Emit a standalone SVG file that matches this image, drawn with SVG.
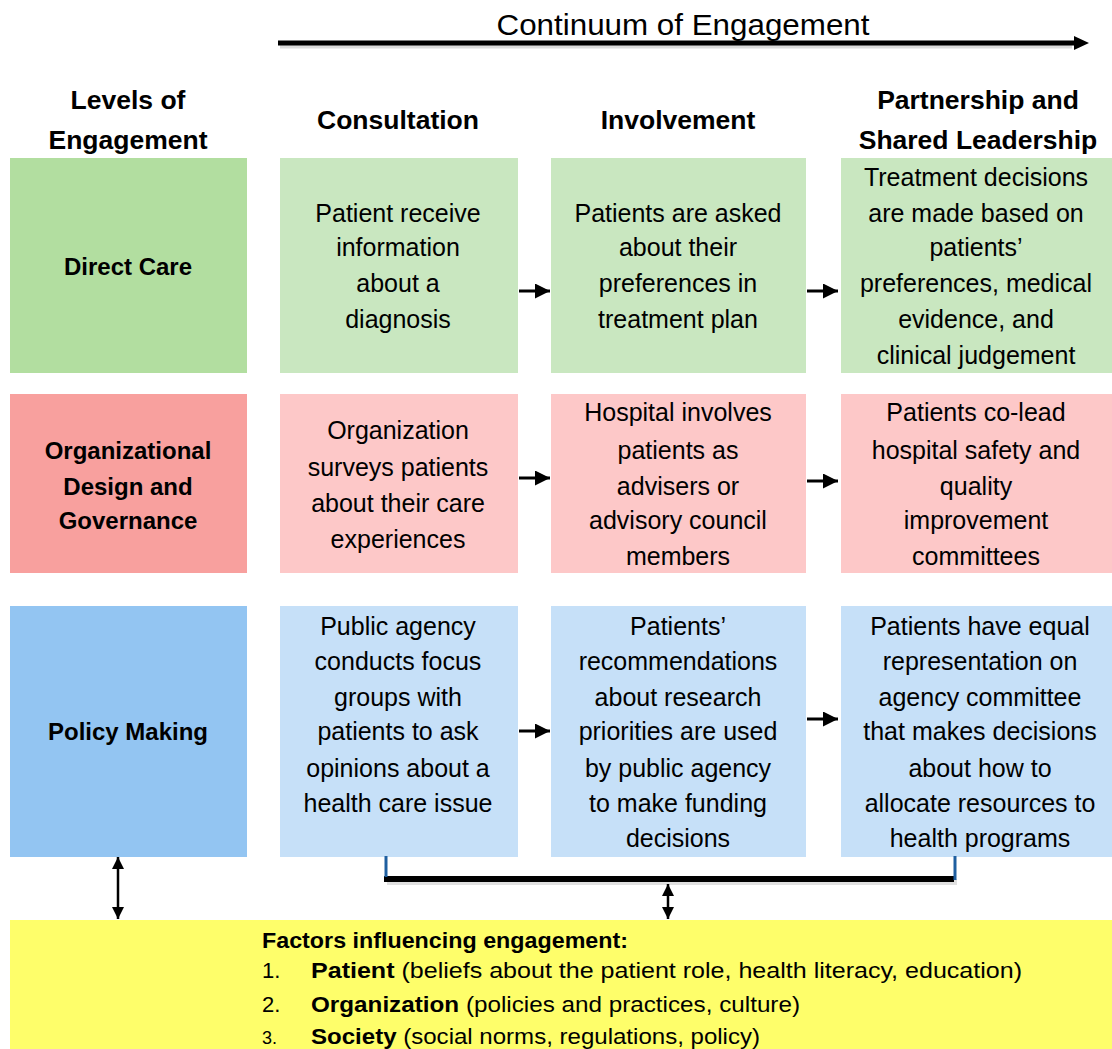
<svg xmlns="http://www.w3.org/2000/svg" width="1112" height="1049" viewBox="0 0 1112 1049">
<style>
text{font-family:"Liberation Sans",Arial,sans-serif;fill:#000}
.t{font-size:25px;text-anchor:middle}
.h{font-size:26.5px;font-weight:bold;text-anchor:middle}
.l{font-size:24px;font-weight:bold;text-anchor:middle}
.f{font-size:22px}
.b{font-weight:bold}
.ar{stroke:#000;stroke-width:3;fill:none}
</style>
<defs>
<marker id="sa" viewBox="0 0 10 10" refX="10" refY="5" markerWidth="17" markerHeight="15" markerUnits="userSpaceOnUse" orient="auto"><path d="M0,0L10,5L0,10z" fill="#000"/></marker>
<marker id="da" viewBox="0 0 10 10" refX="10" refY="5" markerWidth="14" markerHeight="12" markerUnits="userSpaceOnUse" orient="auto-start-reverse"><path d="M0,0L10,5L0,10z" fill="#000"/></marker>
</defs>
<rect width="1112" height="1049" fill="#fff"/>
<g id="title">
<text x="683" y="35" font-size="30" text-anchor="middle" textLength="373" lengthAdjust="spacingAndGlyphs">Continuum of Engagement</text>
</g>
<g id="headers">
<text class="h" x="128" y="109">Levels of</text>
<text class="h" x="128" y="149">Engagement</text>
<text class="h" x="398" y="129">Consultation</text>
<text class="h" x="678" y="129">Involvement</text>
<text class="h" x="978" y="109">Partnership and</text>
<text class="h" x="978" y="149">Shared Leadership</text>
</g>
<g id="direct-care">
<rect x="10" y="158" width="237" height="215" fill="#b2dea0"/>
<text class="l" x="128" y="275">Direct Care</text>
</g>
<g id="dc-consultation">
<rect x="280" y="158" width="238" height="215" fill="#c9e7c0"/>
<text class="t" x="398" y="222">Patient receive</text>
<text class="t" x="398" y="256">information</text>
<text class="t" x="398" y="292">about a</text>
<text class="t" x="398" y="328">diagnosis</text>
</g>
<g id="dc-involvement">
<rect x="551" y="158" width="255" height="215" fill="#c9e7c0"/>
<text class="t" x="678" y="222">Patients are asked</text>
<text class="t" x="678" y="256">about their</text>
<text class="t" x="678" y="292">preferences in</text>
<text class="t" x="678" y="328">treatment plan</text>
</g>
<g id="dc-partnership">
<rect x="841" y="158" width="271" height="215" fill="#c9e7c0"/>
<text class="t" x="976" y="186">Treatment decisions</text>
<text class="t" x="976" y="222">are made based on</text>
<text class="t" x="976" y="256">patients’</text>
<text class="t" x="976" y="292">preferences, medical</text>
<text class="t" x="976" y="328">evidence, and</text>
<text class="t" x="976" y="364">clinical judgement</text>
</g>
<g id="org-design">
<rect x="10" y="394" width="237" height="179" fill="#f8a09e"/>
<text class="l" x="128" y="459">Organizational</text>
<text class="l" x="128" y="495">Design and</text>
<text class="l" x="128" y="529">Governance</text>
</g>
<g id="org-consultation">
<rect x="280" y="394" width="238" height="179" fill="#fdc8c8"/>
<text class="t" x="398" y="439">Organization</text>
<text class="t" x="398" y="476">surveys patients</text>
<text class="t" x="398" y="512">about their care</text>
<text class="t" x="398" y="548">experiences</text>
</g>
<g id="org-involvement">
<rect x="551" y="394" width="255" height="179" fill="#fdc8c8"/>
<text class="t" x="678" y="421">Hospital involves</text>
<text class="t" x="678" y="459">patients as</text>
<text class="t" x="678" y="495">advisers or</text>
<text class="t" x="678" y="529">advisory council</text>
<text class="t" x="678" y="565">members</text>
</g>
<g id="org-partnership">
<rect x="841" y="394" width="271" height="179" fill="#fdc8c8"/>
<text class="t" x="976" y="421">Patients co-lead</text>
<text class="t" x="976" y="459">hospital safety and</text>
<text class="t" x="976" y="495">quality</text>
<text class="t" x="976" y="529">improvement</text>
<text class="t" x="976" y="565">committees</text>
</g>
<g id="policy-making">
<rect x="10" y="606" width="237" height="251" fill="#93c5f2"/>
<text class="l" x="128" y="740">Policy Making</text>
</g>
<g id="pm-consultation">
<rect x="280" y="606" width="238" height="251" fill="#c6e0f8"/>
<text class="t" x="398" y="635">Public agency</text>
<text class="t" x="398" y="670">conducts focus</text>
<text class="t" x="398" y="706">groups with</text>
<text class="t" x="398" y="740">patients to ask</text>
<text class="t" x="398" y="777">opinions about a</text>
<text class="t" x="398" y="812">health care issue</text>
</g>
<g id="pm-involvement">
<rect x="551" y="606" width="255" height="251" fill="#c6e0f8"/>
<text class="t" x="678" y="635">Patients’</text>
<text class="t" x="678" y="670">recommendations</text>
<text class="t" x="678" y="706">about research</text>
<text class="t" x="678" y="740">priorities are used</text>
<text class="t" x="678" y="777">by public agency</text>
<text class="t" x="678" y="812">to make funding</text>
<text class="t" x="678" y="847">decisions</text>
</g>
<g id="pm-partnership">
<rect x="841" y="606" width="271" height="251" fill="#c6e0f8"/>
<text class="t" x="980" y="635">Patients have equal</text>
<text class="t" x="980" y="670">representation on</text>
<text class="t" x="980" y="706">agency committee</text>
<text class="t" x="980" y="740">that makes decisions</text>
<text class="t" x="980" y="777">about how to</text>
<text class="t" x="980" y="812">allocate resources to</text>
<text class="t" x="980" y="847">health programs</text>
</g>
<g id="factors">
<rect x="10" y="920" width="1102" height="129" fill="#fefe6a"/>
<text class="f b" x="262" y="948" textLength="366" lengthAdjust="spacingAndGlyphs">Factors influencing engagement:</text>
<text class="f" x="262" y="978">1.</text>
<text class="f" x="311" y="978" textLength="711" lengthAdjust="spacingAndGlyphs"><tspan class="b">Patient</tspan> (beliefs about the patient role, health literacy, education)</text>
<text class="f" x="262" y="1012">2.</text>
<text class="f" x="311" y="1012" textLength="489" lengthAdjust="spacingAndGlyphs"><tspan class="b">Organization</tspan> (policies and practices, culture)</text>
<text x="262" y="1044" font-family="Liberation Serif" font-size="18">3.</text>
<text class="f" x="311" y="1044" textLength="449" lengthAdjust="spacingAndGlyphs"><tspan class="b">Society</tspan> (social norms, regulations, policy)</text>
</g>
<g id="connectors">
<line x1="280" y1="46" x2="1072" y2="46" stroke="#bbb" stroke-width="5" opacity="0.5"/>
<line x1="278" y1="43" x2="1078" y2="43" stroke="#000" stroke-width="5"/>
<path d="M1074,36L1089,43L1074,50z" fill="#000"/>
<line class="ar" x1="519" y1="291" x2="550" y2="291" marker-end="url(#sa)"/>
<line class="ar" x1="807" y1="291" x2="838" y2="291" marker-end="url(#sa)"/>
<line class="ar" x1="519" y1="478" x2="550" y2="478" marker-end="url(#sa)"/>
<line class="ar" x1="807" y1="481" x2="838" y2="481" marker-end="url(#sa)"/>
<line class="ar" x1="519" y1="731" x2="550" y2="731" marker-end="url(#sa)"/>
<line class="ar" x1="807" y1="719" x2="838" y2="719" marker-end="url(#sa)"/>
<line x1="387" y1="882" x2="957" y2="882" stroke="#ccc" stroke-width="6" opacity="0.6"/>
<line x1="384" y1="879" x2="954" y2="879" stroke="#000" stroke-width="6"/>
<line x1="386" y1="856" x2="386" y2="877" stroke="#1f5fa0" stroke-width="3"/>
<line x1="955" y1="856" x2="955" y2="880" stroke="#1f5fa0" stroke-width="3"/>
<line x1="668" y1="884" x2="668" y2="919" stroke="#000" stroke-width="2.5" marker-start="url(#da)" marker-end="url(#da)"/>
<line x1="118" y1="857" x2="118" y2="919" stroke="#000" stroke-width="2.5" marker-start="url(#da)" marker-end="url(#da)"/>
</g>
</svg>
